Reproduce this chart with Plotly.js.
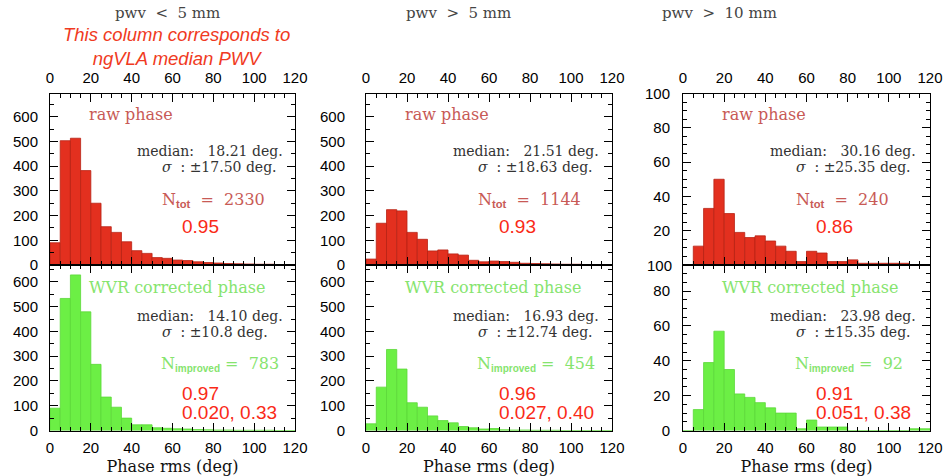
<!DOCTYPE html>
<html>
<head>
<meta charset="utf-8">
<script src="https://cdn.plot.ly/plotly-3.0.1.min.js"></script>
<style>html,body{margin:0;padding:0;background:#fff;}#chart{width:946px;height:476px;}</style>
</head>
<body>
<div id="chart"></div>
<script>
// Bin centres (deg), bins of 5 deg from 0 to 120
const binCenters = [2.5,7.5,12.5,17.5,22.5,27.5,32.5,37.5,42.5,47.5,52.5,57.5,62.5,67.5,72.5,77.5,82.5,87.5,92.5,97.5,102.5,107.5,112.5,117.5];

// pwv < 5 mm
const raw1 = [90,503,513,382,250,155,132,94,58,47,30,27,20,18,13,10,8,6,5,4,3,3,2,2];
const cor1 = [90,533,628,479,267,135,94,50,23,23,11,9,7,6,4,3,2,2,1,1,1,1,0,0];
// pwv > 5 mm
const raw2 = [24,169,224,219,132,104,57,61,45,40,19,13,16,14,11,7,6,5,4,3,3,2,2,1];
const cor2 = [27,175,327,248,112,94,59,40,31,16,11,6,8,3,2,2,1,1,1,0,0,0,0,0];
// pwv > 10 mm
const raw3 = [0,11,33,50,30,19,16,17,14,11,8,2,8,7,2,2,3,1,1,1,1,1,0,0];
const cor3 = [0,12,39,57,35,21,19,16,13,10,10,1,6,2,2,2,0,0,0,0,0,0,1,1];

const columnTitles = ["pwv\u00a0\u00a0<\u00a0\u00a05\u00a0mm", "pwv\u00a0\u00a0>\u00a0\u00a05\u00a0mm", "pwv\u00a0\u00a0>\u00a0\u00a010\u00a0mm"];
const mediansRaw = ["18.21", "21.51", "30.16"];
const sigmasRaw = ["±17.50", "±18.63", "±25.35"];
const nTot = ["2330", "1144", "240"];
const fracRaw = ["0.95", "0.93", "0.86"];
const mediansCor = ["14.10", "16.93", "23.98"];
const sigmasCor = ["±10.8", "±12.74", "±15.35"];
const nImproved = ["783", "454", "92"];
const fracCor = ["0.97", "0.96", "0.91"];
const pairCor = ["0.020, 0.33", "0.027, 0.40", "0.051, 0.38"];

const RED = '#e3301f', GREEN = '#6cef45';
const RAWTXT = '#c85a56', CORTXT = '#86e46e', NUMRED = '#fa2a17';
const SERIF = 'DejaVu Serif', SANS = 'Liberation Sans, Arial, sans-serif';

const colX = [[50/946, 295/946], [366/946, 612/946], [683/946, 930/946]];
const upperY = [211/476, 382.5/476];
const lowerY = [45.5/476, 211/476];

const rawSets = [raw1, raw2, raw3];
const corSets = [cor1, cor2, cor3];

const traces = [];
for (let c = 0; c < 3; c++) {
  const u = c + 1, l = c + 4;
  traces.push({type:'bar', x: binCenters, y: rawSets[c], width: 5,
    marker:{color: RED, line:{color:'#b82214', width:0.8}},
    xaxis: u === 1 ? 'x' : 'x' + u, yaxis: u === 1 ? 'y' : 'y' + u, hoverinfo:'skip', showlegend:false});
  traces.push({type:'bar', x: binCenters, y: corSets[c], width: 5,
    marker:{color: GREEN, line:{color:'#5cd838', width:0.8}},
    xaxis: 'x' + l, yaxis: 'y' + l, hoverinfo:'skip', showlegend:false});
}

const tickFont = {family: SANS, size: 15, color: '#000'};
function xAxis(c, top, yname) {
  return {
    domain: colX[c], anchor: yname, range: [0, 120], side: top ? 'top' : 'bottom',
    showline: true, linecolor: '#000', linewidth: 1, mirror: 'ticks',
    ticks: 'inside', ticklen: 8, tickwidth: 1, tickcolor: '#000',
    tickmode: 'linear', tick0: 0, dtick: 20,
    minor: {ticks: 'inside', ticklen: 4, tickwidth: 1, tickcolor: '#000', dtick: 5, tick0: 0},
    showgrid: false, zeroline: false, tickfont: tickFont, ticklabelstandoff: top ? 4 : 3,
    fixedrange: true,
    title: top ? {text: ''} : {text: 'Phase rms (deg)', font: {family: SERIF, size: 16, color: '#111'}, standoff: 9}
  };
}
const yStandoff = [8, 17, 9];
function yAxis(c, xname, dom, range, dtick, minorD, tickvals) {
  const a = {
    domain: dom, anchor: xname, range: range,
    showline: true, linecolor: '#000', linewidth: 1, mirror: 'ticks',
    ticks: 'inside', ticklen: 8, tickwidth: 1, tickcolor: '#000',
    minor: {ticks: 'inside', ticklen: 4, tickwidth: 1, tickcolor: '#000', dtick: minorD, tick0: 0, tickmode: 'linear'},
    showgrid: false, zeroline: false, tickfont: tickFont, ticklabelstandoff: yStandoff[c],
    fixedrange: true
  };
  if (tickvals) { a.tickmode = 'array'; a.tickvals = tickvals; }
  else { a.tickmode = 'linear'; a.tick0 = 0; a.dtick = dtick; }
  return a;
}

const yRangeRaw = [0, 694], yRangeCor = [0, 668], yRangeRaw3 = [0, 100], yRangeCor3 = [0, 95];

const layout = {
  width: 946, height: 476,
  margin: {l: 0, r: 0, t: 0, b: 0},
  paper_bgcolor: '#fff', plot_bgcolor: '#fff',
  bargap: 0, showlegend: false,
  xaxis: xAxis(0, true, 'y'), yaxis: yAxis(0, 'x', upperY, yRangeRaw, 100, 50),
  xaxis2: xAxis(1, true, 'y2'), yaxis2: yAxis(1, 'x2', upperY, yRangeRaw, 100, 50),
  xaxis3: xAxis(2, true, 'y3'), yaxis3: yAxis(2, 'x3', upperY, yRangeRaw3, 20, 5, [20, 40, 60, 80, 100]),
  xaxis4: xAxis(0, false, 'y4'), yaxis4: yAxis(0, 'x4', lowerY, yRangeCor, 100, 50),
  xaxis5: xAxis(1, false, 'y5'), yaxis5: yAxis(1, 'x5', lowerY, yRangeCor, 100, 50),
  xaxis6: xAxis(2, false, 'y6'), yaxis6: yAxis(2, 'x6', lowerY, yRangeCor3, 20, 5),
  annotations: []
};

const ann = layout.annotations;
const NB = '\u00a0';
for (let c = 0; c < 3; c++) {
  const ux = (c === 0 ? 'x' : 'x' + (c + 1)) + ' domain';
  const uy = (c === 0 ? 'y' : 'y' + (c + 1)) + ' domain';
  const lx = 'x' + (c + 4) + ' domain';
  const ly = 'y' + (c + 4) + ' domain';
  const base = {showarrow: false, xanchor: 'left', yanchor: 'middle'};
  // upper panel
  ann.push(Object.assign({}, base, {xref: ux, yref: uy, x: 0.151, y: 0.88, text: 'raw' + NB + 'phase', font: {family: SERIF, size: 16, color: RAWTXT}}));
  ann.push(Object.assign({}, base, {xref: ux, yref: uy, x: 0.345, y: 0.666, text: 'median:' + NB + NB + NB + mediansRaw[c] + NB + 'deg.', font: {family: SERIF, size: 14, color: '#333'}}));
  ann.push(Object.assign({}, base, {xref: ux, yref: uy, x: 0.449, y: 0.571, text: '<i>σ</i>' + NB + NB + ':' + NB + sigmasRaw[c] + NB + 'deg.', font: {family: SERIF, size: 14, color: '#333'}}));
  ann.push(Object.assign({}, base, {xref: ux, yref: uy, x: 0.449, y: 0.379, text: 'N<sub><b><span style="font-family:Liberation Sans">tot</span></b></sub>' + NB + NB + '=' + NB + NB + nTot[c], font: {family: SERIF, size: 16, color: RAWTXT}}));
  ann.push(Object.assign({}, base, {xref: ux, yref: uy, x: 0.531, y: 0.223, text: fracRaw[c], font: {family: SANS, size: 19, color: NUMRED}}));
  // lower panel
  ann.push(Object.assign({}, base, {xref: lx, yref: ly, x: 0.151, y: 0.867, text: 'WVR' + NB + 'corrected' + NB + 'phase', font: {family: SERIF, size: 16, color: CORTXT}}));
  ann.push(Object.assign({}, base, {xref: lx, yref: ly, x: 0.345, y: 0.693, text: 'median:' + NB + NB + NB + mediansCor[c] + NB + 'deg.', font: {family: SERIF, size: 14, color: '#333'}}));
  ann.push(Object.assign({}, base, {xref: lx, yref: ly, x: 0.449, y: 0.596, text: '<i>σ</i>' + NB + NB + ':' + NB + sigmasCor[c] + NB + 'deg.', font: {family: SERIF, size: 14, color: '#333'}}));
  ann.push(Object.assign({}, base, {xref: lx, yref: ly, x: 0.445, y: 0.40, text: 'N<sub><b><span style="font-family:Liberation Sans;font-size:10px">improved</span></b></sub>' + NB + '=' + NB + NB + nImproved[c], font: {family: SERIF, size: 16, color: CORTXT}}));
  ann.push(Object.assign({}, base, {xref: lx, yref: ly, x: 0.531, y: 0.224, text: fracCor[c], font: {family: SANS, size: 19, color: NUMRED}}));
  ann.push(Object.assign({}, base, {xref: lx, yref: ly, x: 0.531, y: 0.111, text: pairCor[c], font: {family: SANS, size: 19, color: NUMRED}}));
}
// column headers
const headerX = [167, 458, 719];
for (let c = 0; c < 3; c++) {
  ann.push({xref: 'paper', yref: 'paper', x: headerX[c] / 946, y: 1 - 13 / 476, xanchor: 'center', yanchor: 'middle', showarrow: false,
    text: columnTitles[c], font: {family: SERIF, size: 15, color: '#444'}});
}
// red note
ann.push({xref: 'paper', yref: 'paper', x: 176 / 946, y: 1 - 47 / 476, xanchor: 'center', yanchor: 'middle', showarrow: false,
  text: '<i>This column corresponds to<br>ngVLA median PWV</i>', font: {family: SANS, size: 18.5, color: '#f03a22'}});
// "100" label drawn at the boundary between the two right-hand panels, as in the reference
ann.push({xref: 'paper', yref: 'y6 domain', x: (683 - 9) / 946, y: 1, xanchor: 'right', yanchor: 'middle', showarrow: false,
  text: '100', font: tickFont});

Plotly.newPlot('chart', traces, layout, {staticPlot: true, displayModeBar: false});
</script>
</body>
</html>
